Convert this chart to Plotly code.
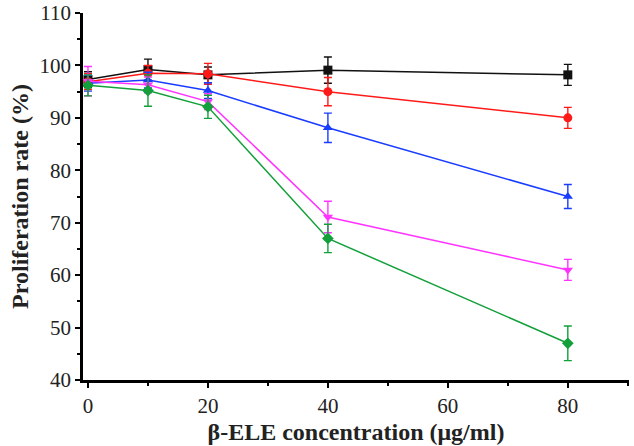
import plotly.graph_objects as go

conc = [0, 10, 20, 40, 80]

black_vals = [97.3, 99.2, 98.2, 99.1, 98.2]
black_err = [1.5, 2.0, 1.5, 2.5, 2.0]
red_vals = [96.9, 98.5, 98.4, 95.0, 90.0]
red_err = [1.5, 1.5, 2.0, 2.7, 2.0]
blue_vals = [96.6, 97.2, 95.2, 88.1, 75.0]
blue_err = [1.5, 1.5, 1.5, 2.8, 2.3]
magenta_vals = [97.0, 96.3, 93.1, 71.1, 61.0]
magenta_err = [2.8, 1.5, 1.5, 3.0, 2.0]
green_vals = [96.2, 95.2, 92.1, 67.0, 47.0]
green_err = [2.0, 3.0, 2.2, 2.7, 3.3]

series = [
    ("black", black_vals, black_err, "#111111", "square"),
    ("red", red_vals, red_err, "#ff1a1a", "circle"),
    ("blue", blue_vals, blue_err, "#1a3cff", "triangle-up"),
    ("magenta", magenta_vals, magenta_err, "#ff33ff", "triangle-down"),
    ("green", green_vals, green_err, "#12a03a", "diamond"),
]

fig = go.Figure()
for name, vals, err, col, sym in series:
    fig.add_trace(go.Scatter(
        x=conc, y=vals, name=name, mode="lines+markers",
        line=dict(color=col, width=1.5),
        marker=dict(color=col, symbol=sym, size=9),
        error_y=dict(type="data", array=err, visible=True, color=col, thickness=1.4, width=4),
        showlegend=False,
    ))

font_family = "Liberation Serif, Times New Roman, serif"
fig.update_layout(
    width=634, height=446,
    margin=dict(l=83, r=5, t=13, b=66),
    paper_bgcolor="white", plot_bgcolor="white",
    font=dict(family=font_family, color="#222222"),
    xaxis=dict(
        automargin=False,
        range=[-0.83, 90.2], tickvals=[0, 20, 40, 60, 80],
        ticks="outside", ticklen=5, tickwidth=2, tickcolor="black",
        minor=dict(tickvals=[10, 30, 50, 70, 90], ticks="outside", ticklen=3, tickwidth=2, tickcolor="black"),
        showline=True, linewidth=2.5, linecolor="black", showgrid=False, zeroline=False,
        tickfont=dict(size=21, family=font_family, color="#222222"),
        title=dict(text="<b>β-ELE concentration (μg/ml)</b>", font=dict(size=24, family=font_family, color="#222222"), standoff=7),
    ),
    yaxis=dict(
        automargin=False,
        range=[40, 110], tickvals=[40, 50, 60, 70, 80, 90, 100, 110],
        ticks="outside", ticklen=5, tickwidth=2, tickcolor="black",
        minor=dict(tickvals=[45, 55, 65, 75, 85, 95, 105], ticks="outside", ticklen=3, tickwidth=2, tickcolor="black"),
        showline=True, linewidth=2.5, linecolor="black", showgrid=False, zeroline=False,
        tickfont=dict(size=21, family=font_family, color="#222222"),
        title=dict(text="<b>Proliferation rate (%)</b>", font=dict(size=24, family=font_family, color="#222222"), standoff=5),
    ),
)

fig.write_html("out.html", config={"displayModeBar": False},
               post_script="document.body.style.margin='0';document.body.style.overflow='hidden';")
